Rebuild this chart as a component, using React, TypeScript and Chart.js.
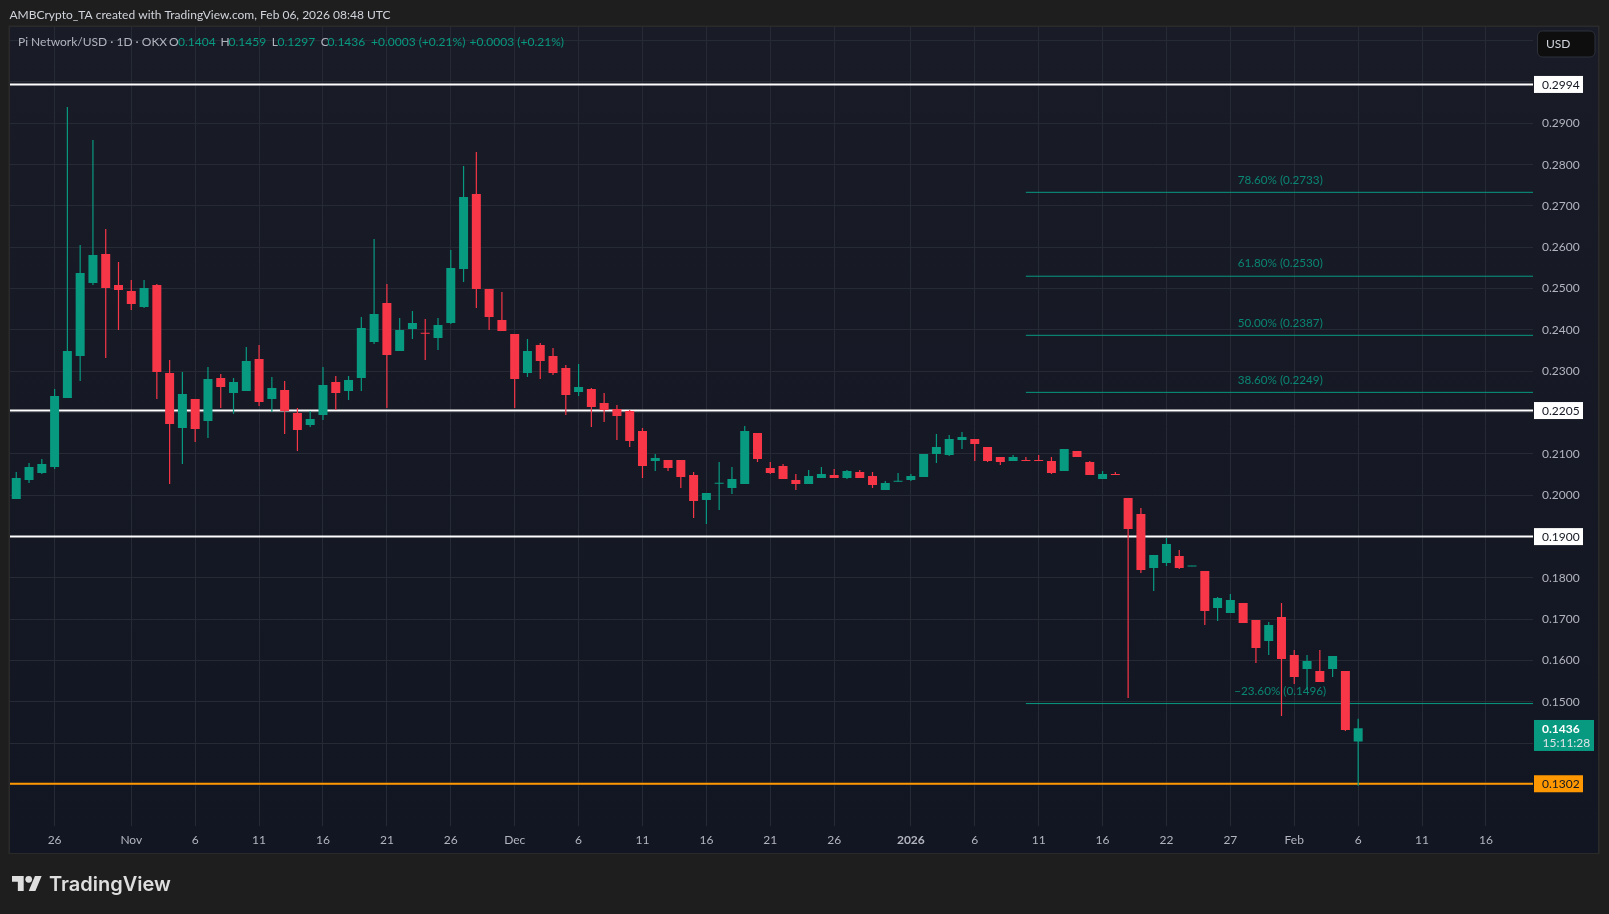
import React, { useEffect, useRef } from "react";
import { Chart, registerables } from "chart.js";

Chart.register(...registerables);

const opens = [0.1991,0.2037,0.20539,0.20684,0.22354,0.2337,0.25136,0.25838,0.25088,0.24943,0.24556,0.25088,0.22959,0.21628,0.2233,0.21797,0.22838,0.22475,0.22523,0.23298,0.2233,0.22548,0.21991,0.21701,0.21943,0.22741,0.22523,0.22838,0.23709,0.24652,0.23491,0.24023,0.2393,0.23805,0.24168,0.25475,0.2729,0.24991,0.24241,0.23902,0.22959,0.23636,0.2337,0.2308,0.22499,0.22571,0.22233,0.22088,0.22039,0.21555,0.20829,0.20854,0.20854,0.20491,0.19886,0.2028,0.20176,0.20273,0.21507,0.2066,0.20708,0.2037,0.20273,0.20418,0.2049,0.20418,0.20563,0.20466,0.20127,0.2033,0.20369,0.20442,0.20998,0.20974,0.21337,0.21361,0.21168,0.20926,0.20829,0.20853,0.20853,0.20829,0.20587,0.21071,0.20805,0.20394,0.20507,0.19934,0.19547,0.1824,0.18361,0.18531,0.18275,0.18167,0.17272,0.17151,0.17393,0.16982,0.16474,0.17054,0.16135,0.15796,0.15748,0.15796,0.15748,0.1404];
const closes = [0.20418,0.20684,0.20757,0.22402,0.23491,0.25378,0.25814,0.25015,0.24967,0.24628,0.25015,0.22983,0.21725,0.22451,0.21604,0.22814,0.2262,0.22741,0.23249,0.22257,0.22596,0.22039,0.2158,0.21846,0.22668,0.22475,0.22789,0.24048,0.24386,0.23394,0.23999,0.24168,0.2391,0.2412,0.25499,0.27217,0.24991,0.24314,0.23975,0.22813,0.23491,0.23249,0.22959,0.22426,0.2262,0.22136,0.22063,0.21918,0.21313,0.20708,0.20902,0.2066,0.20442,0.19862,0.20055,0.2029,0.20394,0.21555,0.20878,0.20539,0.20394,0.20273,0.20466,0.20515,0.20418,0.20587,0.20418,0.20248,0.20297,0.2034,0.20466,0.20998,0.21168,0.21361,0.2141,0.2124,0.20829,0.20805,0.20926,0.20829,0.20829,0.20539,0.21119,0.20926,0.2049,0.20515,0.2049,0.19184,0.18192,0.18555,0.18821,0.1824,0.18281,0.17199,0.17514,0.17466,0.16909,0.16304,0.16861,0.16038,0.15603,0.1599,0.15482,0.16111,0.1432,0.1436];
const highs = [0.20563,0.20781,0.20878,0.22572,0.29395,0.26056,0.28596,0.26443,0.25645,0.25209,0.25209,0.25112,0.23273,0.22983,0.2233,0.23104,0.22935,0.22838,0.23588,0.23636,0.22862,0.22765,0.22112,0.22039,0.23104,0.22886,0.22886,0.24314,0.26201,0.25112,0.24289,0.24459,0.24265,0.24289,0.25935,0.27967,0.28306,0.24991,0.24918,0.23902,0.23781,0.23685,0.23563,0.23152,0.23176,0.22596,0.22475,0.22184,0.22063,0.21628,0.20999,0.20854,0.20854,0.20563,0.20055,0.20805,0.20684,0.21676,0.21507,0.20805,0.20757,0.20515,0.20611,0.20684,0.20636,0.20611,0.20611,0.20563,0.20345,0.20539,0.20515,0.20998,0.21482,0.21458,0.21531,0.21361,0.21168,0.20926,0.20974,0.20926,0.20974,0.20926,0.21119,0.21071,0.20829,0.20587,0.20563,0.19934,0.19692,0.18555,0.18966,0.18676,0.18281,0.18167,0.17538,0.17611,0.17393,0.16982,0.16933,0.17393,0.16256,0.16135,0.16256,0.16111,0.15748,0.1459];
const lows = [0.1991,0.20297,0.20515,0.20636,0.22354,0.22765,0.25088,0.23322,0.24,0.24483,0.24532,0.2233,0.20273,0.20757,0.21289,0.21386,0.22112,0.2197,0.22523,0.2216,0.22015,0.21483,0.21072,0.21652,0.21822,0.22064,0.22305,0.22523,0.2366,0.22112,0.23491,0.23781,0.23273,0.23515,0.24144,0.2516,0.24531,0.23999,0.23975,0.22112,0.22862,0.22813,0.2291,0.21942,0.22402,0.21652,0.21773,0.21338,0.21168,0.20418,0.20588,0.20588,0.20176,0.1945,0.19305,0.19644,0.20031,0.20273,0.20805,0.20515,0.20394,0.20128,0.20273,0.20418,0.20418,0.20394,0.20418,0.20176,0.20127,0.2033,0.20345,0.20442,0.20781,0.2095,0.21119,0.20829,0.20805,0.20732,0.20829,0.20829,0.20829,0.20515,0.20587,0.20926,0.2049,0.20394,0.2049,0.15095,0.18119,0.17684,0.18289,0.18216,0.18275,0.16861,0.16957,0.17151,0.16909,0.15941,0.16135,0.14659,0.15433,0.15288,0.15482,0.15603,0.14296,0.1297];

const xTickIndex = [3,9,14,19,24,29,34,39,44,49,54,59,64,70,75,80,85,90,95,100,105,110,115];
const xTickLabels = ["26","Nov","6","11","16","21","26","Dec","6","11","16","21","26","2026","6","11","16","22","27","Feb","6","11","16"];
const yTicks = [0.31,0.3,0.29,0.28,0.27,0.26,0.25,0.24,0.23,0.22,0.21,0.2,0.19,0.18,0.17,0.16,0.15,0.14,0.13];
const yHiddenLabels = [0.31,0.3,0.22,0.19,0.14,0.13];

const whiteLevels = [0.2994,0.2205,0.19];
const orangeLevel = 0.1302;
const lastClose = 0.1436;
const countdown = "15:11:28";
const fibLevels = [0.2733,0.253,0.2387,0.2249,0.1496];
const fibLabels = ["78.60% (0.2733)","61.80% (0.2530)","50.00% (0.2387)","38.60% (0.2249)","\u221223.60% (0.1496)"];
const X_MIN = -0.49, X_MAX = 118.68, FIB_START = 79, FIB_MID = 98.9;

const GREEN = "#089981", RED = "#f73648", FONT = "Lato";
const indices = opens.map((_, i) => i);
const dirColor = indices.map(i => (closes[i] >= opens[i] ? GREEN : RED));

const lineSet = (y: number, start: number, color: string, width: number) => ({
  type: "line" as const, data: [{ x: start, y }, { x: X_MAX, y }], borderColor: color,
  borderWidth: width, pointRadius: 0, order: 5, parsing: false as const,
});

const decor = {
  id: "decor",
  beforeDraw(chart: any) {
    const c = chart.ctx; c.save();
    c.fillStyle = "#1e1e1e"; c.fillRect(0, 0, 1609, 914);
    c.fillStyle = "#2a2a2a"; c.fillRect(8.5, 25.5, 1591, 828.5);
    const g = c.createLinearGradient(0, 27, 0, 853);
    g.addColorStop(0, "#191c27"); g.addColorStop(1, "#121622");
    c.fillStyle = g; c.fillRect(10, 27, 1588, 826);
    c.restore();
  },
  afterDraw(chart: any) {
    const c = chart.ctx, ys = chart.scales.y, xs = chart.scales.x;
    c.save();
    c.textBaseline = "middle"; c.textAlign = "left";
    // header
    c.font = `12px ${FONT}`; c.fillStyle = "#d1d4dc";
    c.fillText("AMBCrypto_TA created with TradingView.com, Feb 06, 2026 08:48 UTC", 9.5, 14.7);
    // legend
    const legY = 41.7, base = "#b2b5be";
    c.font = `12px ${FONT}`;
    const legend: [string, number, string][] = [
      ["Pi Network/USD \u00b7 1D \u00b7 OKX", 18, base], ["O", 169, base], ["0.1404", 178, GREEN],
      ["H", 220.4, base], ["0.1459", 228.5, GREEN], ["L", 271.7, base], ["0.1297", 277.5, GREEN],
      ["C", 320.7, base], ["0.1436", 327.6, GREEN], ["+0.0003 (+0.21%)", 371, GREEN], ["+0.0003 (+0.21%)", 469.6, GREEN],
    ];
    legend.forEach(([t, x, col]) => { c.fillStyle = col; c.fillText(t, x, legY); });
    // USD button
    c.fillStyle = "#0e0e0e"; c.strokeStyle = "#2c303b"; c.lineWidth = 1;
    c.beginPath(); c.roundRect(1537.5, 31, 57.5, 26, 5); c.fill(); c.stroke();
    c.fillStyle = "#d1d4dc"; c.font = `12px ${FONT}`; c.fillText("USD", 1546, 44.6);
    // fib labels
    c.textAlign = "center"; c.fillStyle = "rgba(8,153,129,0.85)"; c.font = `11.7px ${FONT}`;
    fibLevels.forEach((v, i) => c.fillText(fibLabels[i], xs.getPixelForValue(FIB_MID), ys.getPixelForValue(v) - 12.5));
    // price tags
    c.textAlign = "left"; c.font = `12px ${FONT}`;
    whiteLevels.forEach(v => {
      const y = ys.getPixelForValue(v);
      c.fillStyle = "#ffffff"; c.fillRect(1534, y - 8.5, 49, 17);
      c.fillStyle = "#131722"; c.fillText(v.toFixed(4), 1542, y + 0.5);
    });
    const oy = ys.getPixelForValue(orangeLevel);
    c.fillStyle = "#ff9800"; c.fillRect(1534, oy - 8.5, 49, 17);
    c.fillStyle = "#131722"; c.fillText(orangeLevel.toFixed(4), 1542, oy + 0.5);
    const gy = ys.getPixelForValue(lastClose);
    c.fillStyle = GREEN; c.fillRect(1534, gy - 8.4, 60, 31);
    c.fillStyle = "#ffffff"; c.font = `bold 12px ${FONT}`; c.fillText(lastClose.toFixed(4), 1542, gy + 0.3);
    c.fillStyle = "#dfe3e6"; c.font = `12px ${FONT}`; c.fillText(countdown, 1542.5, gy + 14.3);
    // logo
    c.translate(12, 876 - 4 * 0.835); c.scale(0.835, 0.835); c.fillStyle = "#dedede";
    c.fill(new Path2D("M14 22H7V11H0V4h14v18zM28 22h-8l7.5-18h8L28 22z"));
    c.beginPath(); c.arc(20, 8, 4, 0, Math.PI * 2); c.fill();
    c.setTransform(1, 0, 0, 1, 0, 0);
    c.fillStyle = "#dedede"; c.font = "600 20px Inter"; c.textAlign = "left";
    c.fillText("TradingView", 49, 884.5);
    c.restore();
  },
};

export default function App() {
  const ref = useRef<HTMLCanvasElement>(null);
  useEffect(() => {
    const chart = new Chart(ref.current!, {
      type: "bar",
      plugins: [decor],
      data: {
        datasets: [
          ...whiteLevels.map(v => lineSet(v, X_MIN, "#ffffff", 2)),
          lineSet(orangeLevel, X_MIN, "#ff9800", 2),
          ...fibLevels.map(v => lineSet(v, FIB_START, GREEN, 1)),
          { type: "bar", data: indices.map(i => ({ x: i, y: [lows[i], highs[i]] })), backgroundColor: dirColor, barThickness: 1.2, grouped: false, order: 2, inflateAmount: 0 },
          { type: "bar", data: indices.map(i => ({ x: i, y: [opens[i], closes[i]] })), backgroundColor: dirColor, barThickness: 9, grouped: false, order: 1, minBarLength: 1, inflateAmount: 0 },
        ] as any,
      },
      options: {
        responsive: false,
        animation: false,
        layout: { padding: { left: 10, top: 27, right: 10, bottom: 61 } },
        plugins: { legend: { display: false }, tooltip: { enabled: false } },
        scales: {
          x: {
            type: "linear", min: X_MIN, max: X_MAX, offset: false,
            afterBuildTicks: (a: any) => { a.ticks = xTickIndex.map(v => ({ value: v })); },
            afterFit: (a: any) => { a.height = 27.5; },
            grid: { color: "#262a35", drawTicks: false, offset: false },
            border: { display: false },
            ticks: {
              autoSkip: false, maxRotation: 0, padding: 7, color: "#b2b5be",
              font: (ctx: any) => ({ family: FONT, size: 12, weight: xTickLabels[xTickIndex.indexOf(ctx.tick?.value)] === "2026" ? "bold" : "normal" }),
              callback: (v: any) => xTickLabels[xTickIndex.indexOf(v)] ?? "",
            },
          },
          y: {
            type: "linear", position: "right", min: 0.1201, max: 0.3133,
            afterBuildTicks: (a: any) => { a.ticks = yTicks.map(v => ({ value: v })); },
            afterFit: (a: any) => { a.width = 66; },
            grid: { color: "#262a35", drawTicks: false },
            border: { display: false },
            ticks: {
              autoSkip: false, padding: 9, color: "#b2b5be", font: { family: FONT, size: 12 }, crossAlign: "near",
              callback: (v: any) => (yHiddenLabels.includes(v) ? "" : Number(v).toFixed(4)),
            },
          },
        },
      } as any,
    });
    return () => chart.destroy();
  }, []);
  return <canvas ref={ref} width={1609} height={914} style={{ position: "fixed", left: 0, top: 0, display: "block" }} />;
}
